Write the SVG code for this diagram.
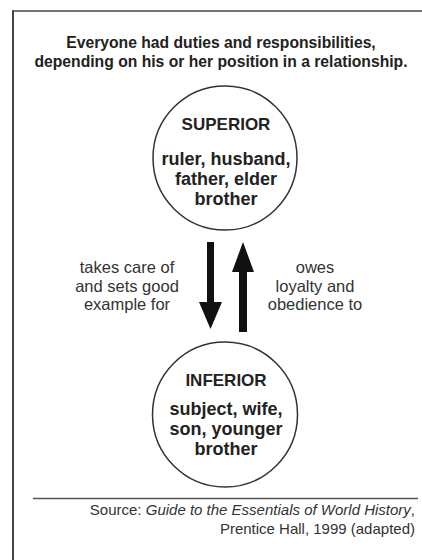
<svg xmlns="http://www.w3.org/2000/svg" width="422" height="560" viewBox="0 0 422 560">
<style>
.t{font-family:"Liberation Sans",Arial,sans-serif;fill:#222;text-anchor:middle}
.b{font-weight:bold}
.n{font-size:18px;font-weight:bold}
.h{font-size:17px;font-weight:bold}
.l{font-size:16.5px;fill:#333}
.s{font-family:"Liberation Sans",Arial,sans-serif;font-size:15px;fill:#333;text-anchor:end}
.c{fill:#fff;stroke:#333;stroke-width:1.5}
</style>
<rect width="422" height="560" fill="#fff"/>
<line x1="13" y1="10.5" x2="13" y2="560" stroke="#444" stroke-width="2"/>
<line x1="12" y1="11" x2="422" y2="11" stroke="#444" stroke-width="1.5"/>
<text class="t b" x="221" y="48" font-size="15.7">Everyone had duties and responsibilities,</text>
<text class="t b" x="221" y="67" font-size="15.7">depending on his or her position in a relationship.</text>
<g id="superior">
<circle class="c" cx="225" cy="158" r="72"/>
<text class="t h" x="226" y="130">SUPERIOR</text>
<text class="t n" x="226" y="165">ruler, husband,</text>
<text class="t n" x="226" y="185">father, elder</text>
<text class="t n" x="226" y="205">brother</text>
</g>
<g id="inferior">
<circle class="c" cx="225" cy="414.5" r="72.5"/>
<text class="t h" x="226" y="386">INFERIOR</text>
<text class="t n" x="226" y="415">subject, wife,</text>
<text class="t n" x="226" y="435">son, younger</text>
<text class="t n" x="226" y="455">brother</text>
</g>
<g id="connectors">
<polygon points="207,242 214,242 214,302 222,302 210.5,329 199,302 207,302" fill="#111"/>
<polygon points="239,332 247,332 247,272 254,272 243,242 232,272 239,272" fill="#111"/>
</g>
<g id="labels">
<text class="t l" x="127" y="273">takes care of</text>
<text class="t l" x="127" y="291.5">and sets good</text>
<text class="t l" x="127" y="310">example for</text>
<text class="t l" x="315" y="273">owes</text>
<text class="t l" x="315" y="291.5">loyalty and</text>
<text class="t l" x="315" y="310">obedience to</text>
</g>
<line x1="33" y1="498.5" x2="418" y2="498.5" stroke="#555" stroke-width="1.5"/>
<text class="s" x="415" y="515">Source: <tspan font-style="italic">Guide to the Essentials of World History</tspan>,</text>
<text class="s" x="415" y="534">Prentice Hall, 1999 (adapted)</text>
</svg>
